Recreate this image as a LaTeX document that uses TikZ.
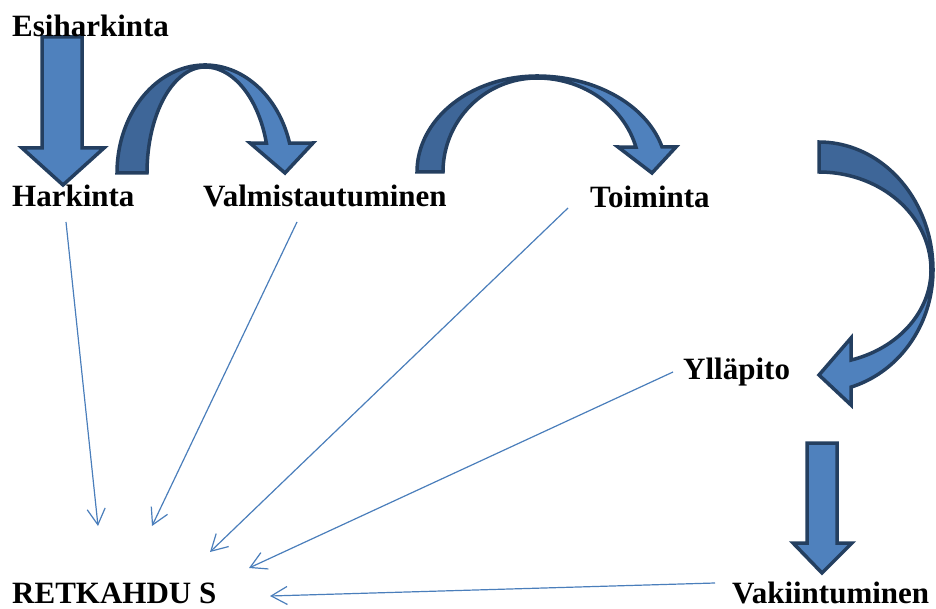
\documentclass[tikz,border=0pt]{standalone}
\usepackage{fontspec}
\setmainfont{Liberation Serif}
\usetikzlibrary{arrows.meta}
\definecolor{blockfill}{HTML}{4F81BD}
\definecolor{blockdark}{HTML}{3E6698}
\definecolor{blockline}{HTML}{243F60}
\definecolor{thinline}{HTML}{4A7EBB}
\tikzset{
  lbl/.style={anchor=base west, inner sep=0pt, font=\fontsize{31}{36}\selectfont\bfseries},
  blockarrow/.style={fill=blockfill, draw=blockline, line width=3.5pt, line join=miter},
  blockback/.style={fill=blockdark, draw=blockline, line width=3.5pt, line join=miter},
  relapse/.style={draw=thinline, line width=1.2pt, -{Straight Barb[length=16pt,width=18pt,line width=1.2pt]}}
}
\begin{document}
\begin{tikzpicture}[x=1pt,y=-1pt]
\useasboundingbox (0,0) rectangle (936,609);

% straight down arrow (Esiharkinta -> Harkinta)
\path[blockarrow] (42,37) -- (82,37) -- (82,148) -- (104,148) -- (63,185) -- (22,148) -- (42,148) -- cycle;

% curved arrow 1 (Harkinta -> Valmistautuminen)
\path[blockback] plot[domain=180:90, samples=40, variable=\t] ({205+88*cos(\t)},{173-108*sin(\t)})
  -- plot[domain=90:180, samples=40, variable=\t] ({205+58*cos(\t)},{173-106*sin(\t)}) -- cycle;
\path[blockarrow] plot[domain=90:16.1, samples=40, variable=\t] ({205+88*cos(\t)},{173-108*sin(\t)})
  -- (313,143) -- (285,173) -- (250,143)
  -- plot[domain=16.4:90, samples=40, variable=\t] ({205+64*cos(\t)},{173-106*sin(\t)}) -- cycle;

% curved arrow 2 (Valmistautuminen -> Toiminta)
\path[blockback] plot[domain=180:90, samples=40, variable=\t] ({537+120*cos(\t)},{172-96*sin(\t)})
  -- plot[domain=90:180, samples=40, variable=\t] ({537+94*cos(\t)},{172-94*sin(\t)}) -- cycle;
\path[blockarrow] plot[domain=90:15.1, samples=40, variable=\t] ({537+129.5*cos(\t)},{172-96*sin(\t)})
  -- (676,147) -- (652,173) -- (618,147)
  -- plot[domain=15.4:90, samples=40, variable=\t] ({537+102.6*cos(\t)},{172-94*sin(\t)}) -- cycle;

% curved arrow 3 (Toiminta -> Yllapito)
\path[blockback] plot[domain=90:0, samples=40, variable=\t] ({819+114*cos(\t)},{270-128*sin(\t)})
  -- plot[domain=0:90, samples=40, variable=\t] ({819+112*cos(\t)},{270-98*sin(\t)}) -- cycle;
\path[blockarrow] plot[domain=0:73.7, samples=40, variable=\t] ({819+114*cos(\t)},{270+122*sin(\t)})
  -- (851,405) -- (819,375) -- (851,338)
  -- plot[domain=73.4:0, samples=40, variable=\t] ({819+112*cos(\t)},{270+94*sin(\t)}) -- cycle;

% straight down arrow (Yllapito -> Vakiintuminen)
\path[blockarrow] (807,443) -- (837,443) -- (837,543) -- (852,543) -- (822,573) -- (793,543) -- (807,543) -- cycle;

% labels
\node[lbl] (esi) at (12,37) {Esiharkinta};
\node[lbl] (hark) at (12,207) {Harkinta};
\node[lbl] (valm) at (203,207) {Valmistautuminen};
\node[lbl] (toim) at (590,208) {Toiminta};
\node[lbl] (yll) at (683,379) {Ylläpito};
\node[lbl] (retk) at (12,603) {RETKAHDU S};
\node[lbl] (vaki) at (732,603) {Vakiintuminen};

% relapse connectors
\coordinate (hs) at (66,222);  \coordinate (he) at (98,526);
\coordinate (vs) at (297,222); \coordinate (ve) at (152,526);
\coordinate (ts) at (568,208); \coordinate (te) at (210,552);
\coordinate (ys) at (673,372); \coordinate (ye) at (249,568);
\coordinate (ks) at (715,583); \coordinate (ke) at (270,596);
\draw[relapse] (hs) -- (he);
\draw[relapse] (vs) -- (ve);
\draw[relapse] (ts) -- (te);
\draw[relapse] (ys) -- (ye);
\draw[relapse] (ks) -- (ke);
\end{tikzpicture}
\end{document}
